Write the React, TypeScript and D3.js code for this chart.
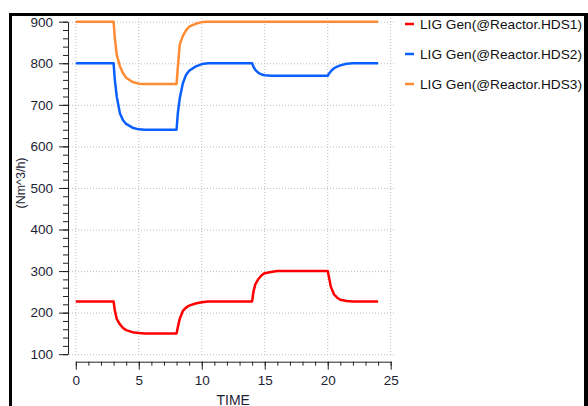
import { useEffect, useRef } from "react";
import * as d3 from "d3";

const times = [
  0, 3, 3.1, 3.25, 3.5, 3.75, 4, 4.5, 5, 5.5, 8, 8.1, 8.25, 8.5, 8.75, 9, 9.5,
  10, 10.5, 14, 14.1, 14.25, 14.5, 14.75, 15, 15.5, 16, 20, 20.1, 20.25, 20.5,
  20.75, 21, 21.5, 22, 24,
];
const hds1 = [
  227, 227, 205, 185, 172, 163, 158, 153, 151, 150, 150, 165, 185, 204, 212,
  217, 222, 225, 227, 227, 250, 268, 281, 290, 295, 298, 300, 300, 285, 262,
  244, 236, 231, 228, 227, 227,
];
const hds2 = [
  800, 800, 760, 720, 680, 663, 654, 645, 641, 640, 640, 680, 715, 752, 772,
  782, 792, 798, 800, 800, 792, 784, 777, 773, 771, 770, 770, 770, 775, 781,
  788, 792, 795, 799, 800, 800,
];
const hds3 = [
  900, 900, 860, 820, 793, 776, 765, 755, 751, 750, 750, 790, 845, 866, 879,
  888, 895, 899, 900, 900, 900, 900, 900, 900, 900, 900, 900, 900, 900, 900,
  900, 900, 900, 900, 900, 900,
];
const seriesNames = [
  "LIG Gen(@Reactor.HDS1)",
  "LIG Gen(@Reactor.HDS2)",
  "LIG Gen(@Reactor.HDS3)",
];
const seriesColors = ["#ff0000", "#0a60ff", "#ff8c33"];
const xTicks = [0, 5, 10, 15, 20, 25];
const yTicks = [100, 200, 300, 400, 500, 600, 700, 800, 900];

export default function App() {
  const svgRef = useRef(null);

  useEffect(() => {
    const width = 588;
    const height = 406;
    const font = "Arial, 'Liberation Sans', sans-serif";
    const svg = d3.select(svgRef.current).attr("width", width).attr("height", height);
    svg.selectAll("*").remove();

    const x = d3.scaleLinear().domain([0, 25]).range([75.8, 390.7]);
    const y = d3.scaleLinear().domain([100, 900]).range([354.2, 21.7]);

    svg.append("rect").attr("width", width).attr("height", height).attr("fill", "#fff");

    // grid
    const grid = svg.append("g").attr("stroke", "#bdbdbd").attr("stroke-dasharray", "1,2");
    yTicks.forEach((t) => {
      grid.append("line").attr("x1", 69).attr("x2", 396).attr("y1", y(t) + 0.5).attr("y2", y(t) + 0.5);
    });
    xTicks.forEach((t) => {
      grid.append("line").attr("x1", x(t)).attr("x2", x(t)).attr("y1", 18).attr("y2", 356);
    });

    // y axis
    const yAxis = svg.append("g").attr("transform", "translate(68,0)");
    yAxis
      .call(d3.axisLeft(y).tickValues(d3.range(100, 901, 20)).tickSize(5).tickSizeOuter(0).tickFormat(() => ""));
    const yMajor = svg.append("g").attr("transform", "translate(68,0)");
    yMajor.call(d3.axisLeft(y).tickValues(yTicks).tickSize(9).tickSizeOuter(0).tickPadding(6));
    yMajor.select(".domain").remove();
    yMajor.selectAll("text").attr("font-size", 13.5).attr("font-family", font).attr("fill", "#1e1e34");

    // x axis
    const xAxis = svg.append("g").attr("transform", "translate(0,361.7)");
    xAxis.call(d3.axisBottom(x).tickValues(d3.range(0, 26, 1)).tickSize(4).tickSizeOuter(0).tickFormat(() => ""));
    const xMajor = svg.append("g").attr("transform", "translate(0,361.7)");
    xMajor.call(d3.axisBottom(x).tickValues(xTicks).tickSize(8).tickSizeOuter(0).tickPadding(6));
    xMajor.select(".domain").remove();
    xMajor.selectAll("text").attr("font-size", 13.5).attr("font-family", font).attr("fill", "#1e1e34");
    svg.selectAll(".tick line").attr("stroke", "#222");
    svg.selectAll(".domain").attr("stroke", "#222");

    // lines
    const line = d3
      .line()
      .x((d) => x(d[0]))
      .y((d) => y(d[1]));
    [hds1, hds2, hds3].forEach((vals, i) => {
      svg
        .append("path")
        .datum(times.map((t, j) => [t, vals[j]]))
        .attr("fill", "none")
        .attr("stroke", seriesColors[i])
        .attr("stroke-width", 2.5)
        .attr("stroke-linejoin", "round")
        .attr("d", line);
    });

    // axis titles
    svg
      .append("text")
      .attr("x", x(12.5))
      .attr("y", 404.5)
      .attr("text-anchor", "middle")
      .attr("font-size", 14)
      .attr("font-family", font)
      .attr("fill", "#1e1e34")
      .text("TIME");
    svg
      .append("text")
      .attr("transform", "translate(25,183) rotate(-90)")
      .attr("text-anchor", "middle")
      .attr("font-size", 12.5)
      .attr("font-family", font)
      .attr("fill", "#1e1e34")
      .text("(Nm^3/h)");

    // legend
    seriesNames.forEach((name, i) => {
      const ly = 24 + i * 30;
      svg
        .append("line")
        .attr("x1", 405)
        .attr("x2", 414)
        .attr("y1", ly)
        .attr("y2", ly)
        .attr("stroke", seriesColors[i])
        .attr("stroke-width", 2.5);
      svg
        .append("text")
        .attr("x", 420)
        .attr("y", ly + 5)
        .attr("font-size", 13.5)
        .attr("font-family", font)
        .attr("fill", "#111")
        .attr("textLength", 162)
        .attr("lengthAdjust", "spacingAndGlyphs")
        .text(name);
    });

    // frame
    svg.append("rect").attr("x", 584).attr("y", 13).attr("width", 4).attr("height", height).attr("fill", "#000");
    svg.append("rect").attr("x", 9).attr("y", 13).attr("width", width).attr("height", 3).attr("fill", "#000");
    svg.append("rect").attr("x", 9).attr("y", 13).attr("width", 3).attr("height", height).attr("fill", "#000");
  }, []);

  return <svg ref={svgRef} style={{ position: "absolute", left: 0, top: 0 }}></svg>;
}
